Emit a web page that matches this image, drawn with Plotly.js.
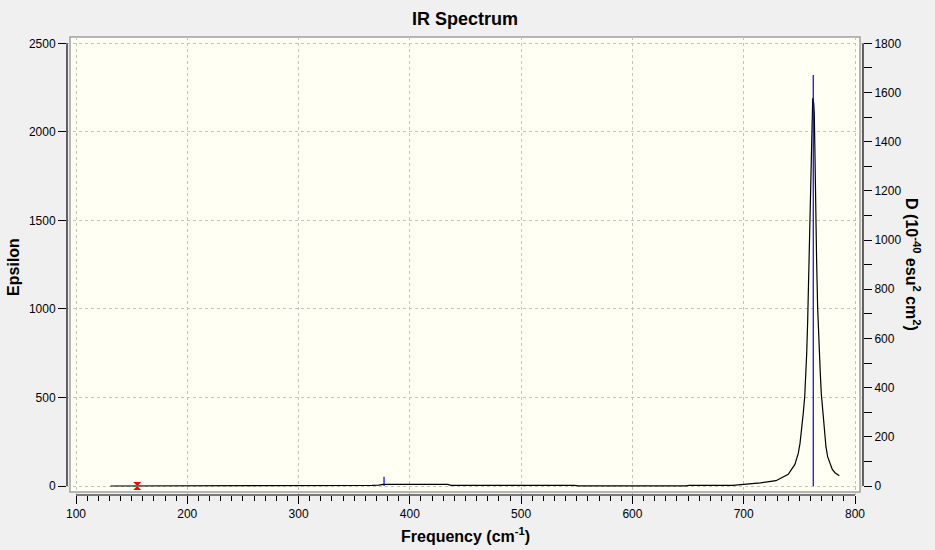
<!DOCTYPE html>
<html>
<head>
<meta charset="utf-8">
<script src="https://cdn.plot.ly/plotly-3.0.1.min.js"></script>
<style>
  html, body { margin: 0; padding: 0; background: #f0f0f0; }
  #chart { width: 935px; height: 550px; }
</style>
</head>
<body>
<div id="chart"></div>
<script>
// Spectrum curve (Epsilon vs frequency, cm^-1)
const epsFreq = [131, 200, 300, 362, 366, 372, 376, 434, 437, 548, 551, 648, 651, 690,
  700, 715, 729, 733, 740, 746, 749, 750.6, 752, 753.5, 754.8, 755.7, 756.6, 757.5,
  758.4, 759.3, 760.2, 761.1, 762, 762.9, 763.4, 764, 764.6, 765.5, 766.4, 767.6,
  768.8, 769.7, 771.2, 772.4, 773.9, 775.4, 777.5, 779.6, 782, 785.9];
const epsValues = [0, 0, 0, 0, 4, 5, 9, 9, 4, 4, 1, 1, 4, 4,
  9, 18, 30, 43, 66, 122, 184, 241, 316, 410, 504, 617, 749, 937,
  1182, 1464, 1775, 2048, 2189, 2161, 2105, 1879, 1577, 1276, 1013, 787,
  636, 523, 410, 316, 222, 166, 128, 94, 75, 58];

// Stick spectrum (D, 10^-40 esu^2 cm^2)
const stickFreq = [376.8, 762.5];
const stickD = [38, 1671];

// Highlighted mode marker
const markFreq = [155];
const markValue = [0];

// Axis ticks
const xTicks = [100, 200, 300, 400, 500, 600, 700, 800];
const yTicks = [0, 500, 1000, 1500, 2000, 2500];
const y2Ticks = [0, 200, 400, 600, 800, 1000, 1200, 1400, 1600, 1800];

const stickX = [], stickY = [];
stickFreq.forEach((f, i) => { stickX.push(f, f, null); stickY.push(0, stickD[i], null); });

const tickFont = { family: 'Liberation Sans, Arial, sans-serif', size: 12, color: '#000' };
const titleFont = { family: 'Liberation Sans, Arial, sans-serif', size: 16, color: '#000', weight: 'bold' };

const traces = [
  { x: epsFreq, y: epsValues, type: 'scatter', mode: 'lines', yaxis: 'y',
    line: { color: '#000', width: 1.2 }, hoverinfo: 'skip', showlegend: false },
  { x: stickX, y: stickY, type: 'scatter', mode: 'lines', yaxis: 'y2',
    line: { color: '#0000ff', width: 1.2 }, hoverinfo: 'skip', showlegend: false },
  { x: markFreq, y: markValue, type: 'scatter', mode: 'markers', yaxis: 'y',
    marker: { symbol: 'hourglass', size: 8, color: '#ff0000' }, hoverinfo: 'skip', showlegend: false }
];

const gridStyle = { showgrid: true, gridcolor: '#c4c4c4', griddash: '3px,3px', gridwidth: 1 };

const layout = {
  width: 935, height: 550,
  margin: { l: 67, r: 72, t: 37, b: 55 },
  paper_bgcolor: '#f0f0f0',
  plot_bgcolor: '#f0f0f0',
  title: { text: 'IR Spectrum', x: 0.5, xref: 'paper', y: 1 - 19 / 550, yanchor: 'middle',
    font: { family: 'Liberation Sans, Arial, sans-serif', size: 18, color: '#000', weight: 'bold' } },
  xaxis: Object.assign({
    range: [91.91, 807.19], tickvals: xTicks, ticks: 'outside', ticklen: 8, tickcolor: '#000',
    tickwidth: 1, showline: false, zeroline: false, tickfont: tickFont,
    minor: { dtick: 10, tick0: 0, ticks: 'outside', ticklen: 5, tickcolor: '#000', tickwidth: 1, showgrid: false }
  }, gridStyle),
  yaxis: Object.assign({
    range: [-50.82, 2535.6], tickvals: yTicks, ticks: 'outside', ticklen: 8, tickcolor: '#000',
    tickwidth: 1, showline: false, zeroline: false, tickfont: tickFont
  }, gridStyle),
  yaxis2: {
    overlaying: 'y', side: 'right', range: [-36.59, 1825.6], tickvals: y2Ticks,
    ticks: 'outside', ticklen: 8, tickcolor: '#000', tickwidth: 1, showline: false,
    zeroline: false, showgrid: false, tickfont: tickFont,
    minor: { dtick: 100, tick0: 0, ticks: 'outside', ticklen: 8, tickcolor: '#000', tickwidth: 1, showgrid: false }
  },
  shapes: [
    // cream plot frame fill
    { type: 'rect', xref: 'paper', yref: 'paper', x0: 0.00377, x1: 0.99623, y0: 0.00655, y1: 1,
      fillcolor: '#fffff3', line: { width: 0 }, layer: 'below' },
    // gray strips hiding grid overshoot
    { type: 'rect', xref: 'paper', yref: 'paper', x0: 0, x1: 0.00377, y0: 0, y1: 1,
      fillcolor: '#f0f0f0', line: { width: 0 }, layer: 'between' },
    { type: 'rect', xref: 'paper', yref: 'paper', x0: 0.99623, x1: 1, y0: 0, y1: 1,
      fillcolor: '#f0f0f0', line: { width: 0 }, layer: 'between' },
    { type: 'rect', xref: 'paper', yref: 'paper', x0: 0, x1: 1, y0: 0, y1: 0.00655,
      fillcolor: '#f0f0f0', line: { width: 0 }, layer: 'between' },
    // frame border
    { type: 'rect', xref: 'paper', yref: 'paper', x0: 0.00377, x1: 0.99623, y0: 0.00655, y1: 1,
      fillcolor: 'rgba(0,0,0,0)', line: { color: '#a0a0a0', width: 1.5 }, layer: 'between' },
    // axis lines spanning tick range
    { type: 'line', xref: 'paper', yref: 'y', x0: 0, x1: 0, y0: yTicks[0], y1: yTicks[yTicks.length - 1],
      line: { color: '#000', width: 1.2 } },
    { type: 'line', xref: 'paper', yref: 'y2', x0: 1, x1: 1, y0: y2Ticks[0], y1: y2Ticks[y2Ticks.length - 1],
      line: { color: '#000', width: 1.2 } },
    { type: 'line', xref: 'x', yref: 'paper', x0: xTicks[0], x1: xTicks[xTicks.length - 1], y0: 0, y1: 0,
      line: { color: '#000', width: 1.2 } }
  ],
  annotations: [
    { text: 'Frequency (cm<sup>-1</sup>)', xref: 'paper', yref: 'paper', x: 0.5, y: -0.087,
      xanchor: 'center', yanchor: 'middle', showarrow: false, font: titleFont },
    { text: 'Epsilon', xref: 'paper', yref: 'paper', x: -0.0666, y: 0.498, textangle: -90,
      xanchor: 'center', yanchor: 'middle', showarrow: false, font: titleFont },
    { text: 'D (10<sup>-40</sup> esu<sup>2</sup> cm<sup>2</sup>)', xref: 'paper', yref: 'paper',
      x: 1.0628, y: 0.502, textangle: 90, xanchor: 'center', yanchor: 'middle', showarrow: false, font: titleFont }
  ]
};

Plotly.newPlot('chart', traces, layout, { staticPlot: true, displayModeBar: false });
</script>
</body>
</html>
